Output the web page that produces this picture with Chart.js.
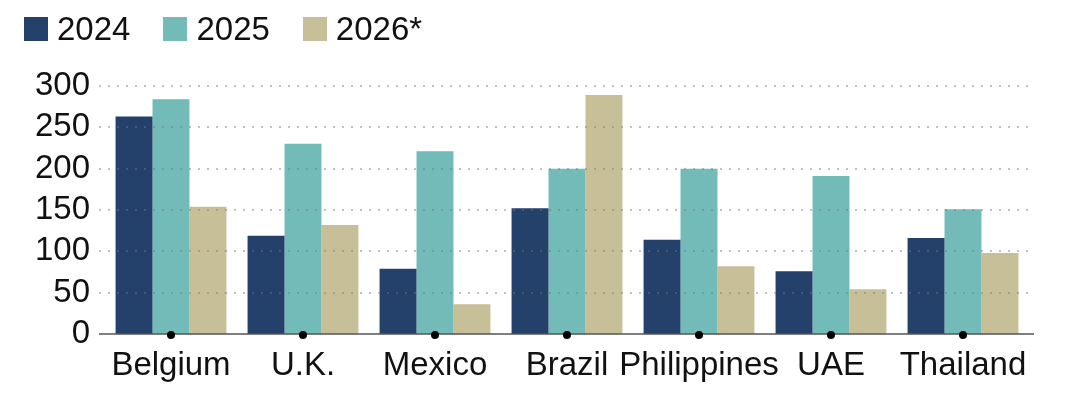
<!DOCTYPE html>
<html>
<head>
<meta charset="utf-8">
<script src="https://cdn.jsdelivr.net/npm/chart.js@4/dist/chart.umd.min.js"></script>
<style>
  html, body { margin: 0; padding: 0; background: #fff; }
  #wrap { position: relative; width: 1088px; height: 402px; }
  #legend { position: absolute; left: 24px; top: 10px; display: flex; font-family: "Liberation Sans", Arial, sans-serif; font-size: 33px; color: #111; }
  .item { display: flex; align-items: center; margin-right: 33px; }
  .box { width: 24px; height: 24px; margin-right: 9px; }
  canvas { position: absolute; left: 0; top: 0; }
</style>
</head>
<body>
<div id="wrap">
  <canvas id="c" width="1088" height="402"></canvas>
  <div id="legend"></div>
</div>
<script>
const categories = ["Belgium", "U.K.", "Mexico", "Brazil", "Philippines", "UAE", "Thailand"];
const seriesNames = ["2024", "2025", "2026*"];
const values2024 = [263, 119, 79, 152, 114, 76, 116];
const values2025 = [284, 230, 221, 200, 200, 191, 151];
const values2026 = [154, 132, 36, 289, 82, 54, 98];
const yTicks = [0, 50, 100, 150, 200, 250, 300];
const colors = ["#24416b", "#72bbb8", "#c7bf97"];

const legendEl = document.getElementById('legend');
seriesNames.forEach((n, i) => {
  const it = document.createElement('div'); it.className = 'item';
  const b = document.createElement('div'); b.className = 'box'; b.style.background = colors[i];
  const t = document.createElement('span'); t.textContent = n;
  it.appendChild(b); it.appendChild(t); legendEl.appendChild(it);
});

const overlay = {
  id: 'overlay',
  afterDatasetsDraw(chart) {
    const ctx = chart.ctx, y = chart.scales.y, x = chart.scales.x;
    const left = chart.chartArea.left - 6, right = chart.chartArea.right + 5;
    ctx.save();
    ctx.strokeStyle = 'rgba(120,120,120,0.45)';
    ctx.lineWidth = 2;
    ctx.setLineDash([2, 7]);
    yTicks.forEach(v => {
      if (v === 0) return;
      const py = Math.round(y.getPixelForValue(v));
      ctx.beginPath(); ctx.moveTo(left, py); ctx.lineTo(right, py); ctx.stroke();
    });
    ctx.setLineDash([]);
    ctx.strokeStyle = '#555';
    ctx.lineWidth = 1.5;
    const py0 = y.getPixelForValue(0);
    ctx.beginPath(); ctx.moveTo(left, py0); ctx.lineTo(right, py0); ctx.stroke();
    ctx.fillStyle = '#000';
    categories.forEach((c, i) => {
      const px = x.getPixelForValue(i);
      ctx.beginPath(); ctx.arc(px, py0 + 1, 4, 0, Math.PI * 2); ctx.fill();
    });
    ctx.restore();
  }
};

new Chart(document.getElementById('c'), {
  type: 'bar',
  data: {
    labels: categories,
    datasets: [
      { label: seriesNames[0], data: values2024, backgroundColor: colors[0] },
      { label: seriesNames[1], data: values2025, backgroundColor: colors[1] },
      { label: seriesNames[2], data: values2026, backgroundColor: colors[2] }
    ]
  },
  options: {
    responsive: false,
    animation: false,
    devicePixelRatio: 1,
    layout: { padding: { top: 86, right: 59, left: 0, bottom: 0 } },
    plugins: { legend: { display: false }, tooltip: { enabled: false } },
    datasets: { bar: { categoryPercentage: 0.84, barPercentage: 1.0 } },
    scales: {
      x: {
        grid: { display: false, drawTicks: false },
        border: { display: false },
        ticks: { color: '#111', font: { family: 'Liberation Sans', size: 33 }, padding: 12, maxRotation: 0, autoSkip: false },
        afterFit(s) { s.height = 68; }
      },
      y: {
        min: 0, max: 300,
        grid: { display: false, drawTicks: false },
        border: { display: false },
        afterBuildTicks(s) { s.ticks = yTicks.map(v => ({ value: v })); },
        ticks: { autoSkip: false, color: '#111', font: { family: 'Liberation Sans', size: 33 }, padding: 15 },
        afterFit(s) { s.width = 105; }
      }
    }
  },
  plugins: [overlay]
});
</script>
</body>
</html>
